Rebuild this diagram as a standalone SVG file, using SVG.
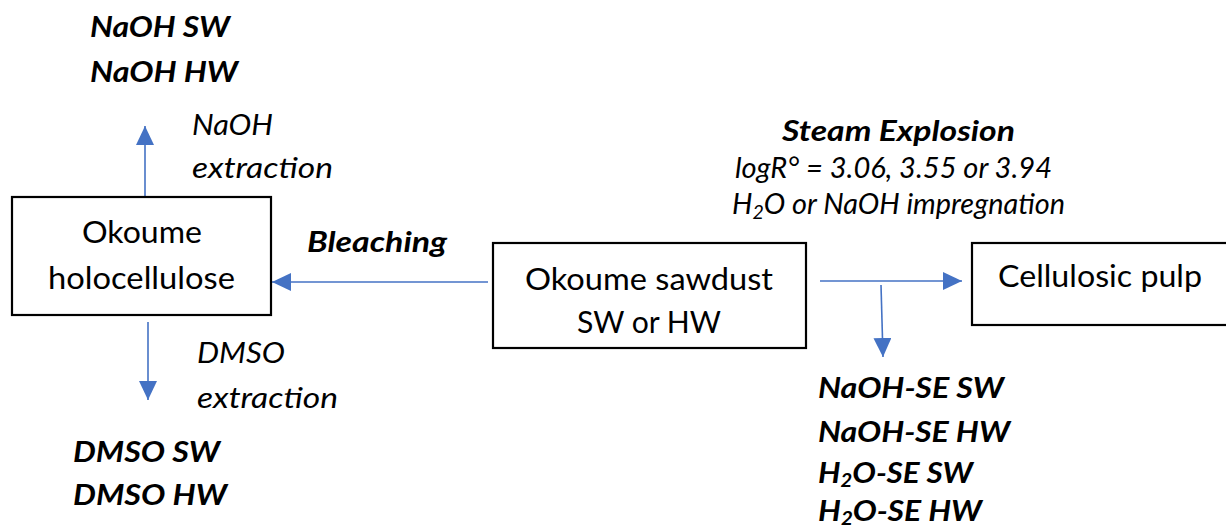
<svg xmlns="http://www.w3.org/2000/svg" width="1226" height="531" viewBox="0 0 1226 531">
<style>
.box{fill:#fff;stroke:#000;stroke-width:2.2}
.t{font-family:Lato,"Liberation Sans",sans-serif;font-size:30px;fill:#000}
.i{font-family:Lato,"Liberation Sans",sans-serif;font-size:28px;font-style:italic;fill:#000}
.b{font-family:Lato,"Liberation Sans",sans-serif;font-size:28px;font-style:italic;font-weight:bold;fill:#000}
.c{stroke:#4472C4;stroke-width:1.6;fill:none;marker-end:url(#ah)}
</style>
<defs>
<marker id="ah" markerUnits="userSpaceOnUse" markerWidth="20" markerHeight="20" refX="19" refY="9" orient="auto">
<path d="M0,0 L19,9 L0,18 Z" fill="#4472C4"/>
</marker>
</defs>
<rect width="1226" height="531" fill="#fff"/>
<g id="connectors">
<line class="c" x1="145" y1="197" x2="145" y2="126"/>
<line class="c" x1="148" y1="322" x2="148" y2="400"/>
<line class="c" x1="488" y1="282" x2="272" y2="282"/>
<line class="c" x1="820" y1="281" x2="962" y2="281"/>
<line class="c" x1="881" y1="285" x2="883" y2="357"/>
</g>
<g id="holocellulose">
<rect class="box" x="12" y="197" width="259" height="118"/>
<text class="t" x="82" y="243" textLength="120" lengthAdjust="spacingAndGlyphs">Okoume</text>
<text class="t" x="48" y="289" textLength="187" lengthAdjust="spacingAndGlyphs">holocellulose</text>
</g>
<g id="sawdust">
<rect class="box" x="493" y="243" width="313" height="105"/>
<text class="t" x="525" y="290" textLength="248" lengthAdjust="spacingAndGlyphs">Okoume sawdust</text>
<text class="t" x="577" y="333" textLength="144" lengthAdjust="spacingAndGlyphs">SW or HW</text>
</g>
<g id="pulp">
<rect class="box" x="972" y="243" width="270" height="82"/>
<text class="t" x="998" y="287" textLength="204" lengthAdjust="spacingAndGlyphs">Cellulosic pulp</text>
</g>
<g id="naoh-products">
<text class="b" x="90" y="37" textLength="140" lengthAdjust="spacingAndGlyphs">NaOH SW</text>
<text class="b" x="90" y="82" textLength="148" lengthAdjust="spacingAndGlyphs">NaOH HW</text>
</g>
<g id="naoh-label">
<text class="i" x="192" y="135" textLength="81" lengthAdjust="spacingAndGlyphs">NaOH</text>
<text class="i" x="192" y="178" textLength="141" lengthAdjust="spacingAndGlyphs">extraction</text>
</g>
<g id="dmso-label">
<text class="i" x="197" y="363" textLength="88" lengthAdjust="spacingAndGlyphs">DMSO</text>
<text class="i" x="197" y="408" textLength="141" lengthAdjust="spacingAndGlyphs">extraction</text>
</g>
<g id="dmso-products">
<text class="b" x="73" y="462" textLength="147" lengthAdjust="spacingAndGlyphs">DMSO SW</text>
<text class="b" x="73" y="505" textLength="154" lengthAdjust="spacingAndGlyphs">DMSO HW</text>
</g>
<g id="bleaching-label">
<text class="b" x="307" y="252" textLength="140" lengthAdjust="spacingAndGlyphs">Bleaching</text>
</g>
<g id="se-label">
<text class="b" x="782" y="141" textLength="233" lengthAdjust="spacingAndGlyphs">Steam Explosion</text>
<text class="i" x="735" y="178" textLength="317" lengthAdjust="spacingAndGlyphs">logR° = 3.06, 3.55 or 3.94</text>
<text class="i" x="732" y="214" textLength="333" lengthAdjust="spacingAndGlyphs">H<tspan font-size="19" dy="5">2</tspan><tspan dy="-5">O or NaOH impregnation</tspan></text>
</g>
<g id="se-products">
<text class="b" x="818" y="398" textLength="186" lengthAdjust="spacingAndGlyphs">NaOH-SE SW</text>
<text class="b" x="818" y="442" textLength="192" lengthAdjust="spacingAndGlyphs">NaOH-SE HW</text>
<text class="b" x="818" y="483" textLength="155" lengthAdjust="spacingAndGlyphs">H<tspan font-size="18" dy="4">2</tspan><tspan dy="-4">O-SE SW</tspan></text>
<text class="b" x="818" y="521" textLength="164" lengthAdjust="spacingAndGlyphs">H<tspan font-size="18" dy="4">2</tspan><tspan dy="-4">O-SE HW</tspan></text>
</g>
</svg>
